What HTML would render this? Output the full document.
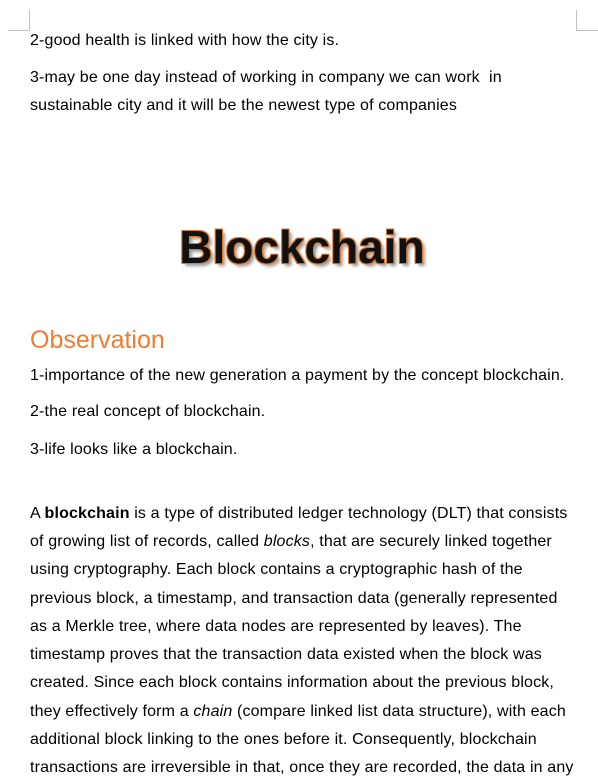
<!DOCTYPE html>
<html><head><meta charset="utf-8"><style>
body{margin:0;width:598px;height:782px;background:#fff;position:relative;overflow:hidden;font-family:"Liberation Sans",Arial,sans-serif;color:#000}
.l{position:absolute;left:30px;font-size:16px;line-height:20px;white-space:nowrap;letter-spacing:0.15px}
.m{position:absolute;background:#bfbfbf}
</style></head><body>
<div class="m" style="left:29px;top:10px;width:1px;height:21px"></div>
<div class="m" style="left:8px;top:30px;width:22px;height:1px"></div>
<div class="m" style="left:576px;top:10px;width:1px;height:21px"></div>
<div class="m" style="left:576px;top:30px;width:22px;height:1px"></div>

<div class="l" style="top:31px">2-good health is linked with how the city is.</div>
<div class="l" style="top:68px">3-may be one day instead of working in company we can work&nbsp; in</div>
<div class="l" style="top:96px">sustainable city and it will be the newest type of companies</div>

<div style="position:absolute;left:0;width:604px;text-align:center;top:219px;font-size:46px;font-weight:bold;line-height:56px;color:#111;text-shadow:-1px -1px 0 #e07a2a,1px -1px 0 #e07a2a,-1px 1px 0 #e07a2a,1px 1px 0 #e07a2a,3px 3px 3px #999">Blockchain</div>

<div style="position:absolute;left:30px;top:324px;font-size:25px;line-height:32px;color:#ed7d31">Observation</div>
<div class="l" style="top:366px">1-importance of the new generation a payment by the concept blockchain.</div>
<div class="l" style="top:402px">2-the real concept of blockchain.</div>
<div class="l" style="top:440px">3-life looks like a blockchain.</div>

<div class="l" style="top:504px">A <b>blockchain</b> is a type of distributed ledger technology (DLT) that consists</div>
<div class="l" style="top:532px">of growing list of records, called <i>blocks</i>, that are securely linked together</div>
<div class="l" style="top:560px">using cryptography. Each block contains a cryptographic hash of the</div>
<div class="l" style="top:589px">previous block, a timestamp, and transaction data (generally represented</div>
<div class="l" style="top:617px">as a Merkle tree, where data nodes are represented by leaves). The</div>
<div class="l" style="top:645px">timestamp proves that the transaction data existed when the block was</div>
<div class="l" style="top:673px">created. Since each block contains information about the previous block,</div>
<div class="l" style="top:702px">they effectively form a <i>chain</i> (compare linked list data structure), with each</div>
<div class="l" style="top:730px">additional block linking to the ones before it. Consequently, blockchain</div>
<div class="l" style="top:758px">transactions are irreversible in that, once they are recorded, the data in any</div>
</body></html>
